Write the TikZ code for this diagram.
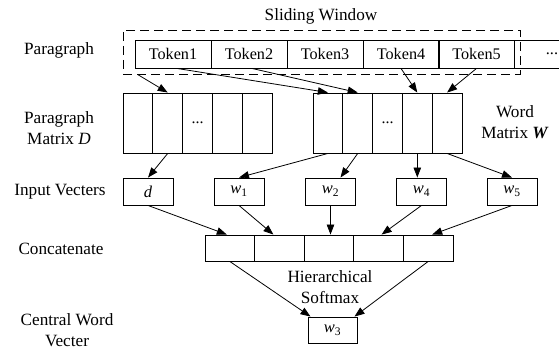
\documentclass[tikz,border=0pt]{standalone}
\usepackage{fontspec}
\setmainfont{Liberation Serif}
\usetikzlibrary{arrows.meta}
\begin{document}
\begin{tikzpicture}[x=1pt,y=-1pt,
  box/.style={draw, line width=0.9pt, inner sep=0pt, minimum height=28pt, minimum width=76pt, font=\fontsize{16.2}{19}\selectfont},
  col/.style={draw, line width=0.9pt, inner sep=0pt, minimum height=60pt, minimum width=29.8pt, font=\fontsize{16}{19}\selectfont},
  vec/.style={draw, line width=0.9pt, inner sep=0pt, minimum height=27pt, minimum width=50pt, font=\fontsize{16.5}{19}\selectfont},
  cat/.style={draw, line width=0.9pt, inner sep=0pt, minimum height=26pt, minimum width=49.6pt},
  lbl/.style={align=center, inner sep=0pt, font=\fontsize{17.2}{21}\selectfont},
  arr/.style={line width=0.8pt, -{Triangle[length=10pt,width=7.5pt]}}
]
\useasboundingbox (0,0) rectangle (559,350);
% labels
\node[lbl] (lsw) at (321,16) {Sliding Window};
\node[lbl] (lpar) at (59,50) {Paragraph};
\node[lbl] (lpm) at (59,128) {Paragraph\\Matrix \textit{D}};
\node[lbl] (lwm) at (515,122) {Word\\Matrix \textbf{\textit{W}}};
\node[lbl] (liv) at (60,192) {Input Vecters};
\node[lbl] (lcc) at (61,249) {Concatenate};
\node[lbl] (lcw) at (67,330) {Central Word\\Vecter};
\node[lbl] (lhs) at (330,287) {Hierarchical\\Softmax};
% tokens
\node[box] (t1) at (173,54) {Token1};
\node[box] (t2) at (249,54) {Token2};
\node[box] (t3) at (325,54) {Token3};
\node[box] (t4) at (401,54) {Token4};
\node[box] (t5) at (476.5,54) {Token5};
\node[box] (t6) at (552,54) {...};
\node[draw, dashed, dash pattern=on 9pt off 5pt, line width=0.9pt, minimum width=397pt, minimum height=44pt, inner sep=0pt] (win) at (321.5,52) {};
% paragraph matrix
\node[col] (p1) at (137.9,123) {};
\node[col] (p2) at (167.7,123) {};
\node[col] (p3) at (197.5,123) {...};
\node[col] (p4) at (227.3,123) {};
\node[col] (p5) at (257.1,123) {};
% word matrix
\node[col] (m1) at (327.9,123) {};
\node[col] (m2) at (357.7,123) {};
\node[col] (m3) at (387.5,123) {...};
\node[col] (m4) at (417.3,123) {};
\node[col] (m5) at (447.1,123) {};
% input vectors
\node[vec] (d) at (148,191.5) {\textit{d}};
\node[vec] (w1) at (239,191.5) {\textit{w}\textsubscript{1}};
\node[vec] (w2) at (330.5,191.5) {\textit{w}\textsubscript{2}};
\node[vec] (w4) at (421.5,191.5) {\textit{w}\textsubscript{4}};
\node[vec] (w5) at (512,191.5) {\textit{w}\textsubscript{5}};
% concatenate
\node[cat] (c1) at (229.8,248) {};
\node[cat] (c2) at (279.4,248) {};
\node[cat] (c3) at (329,248) {};
\node[cat] (c4) at (378.6,248) {};
\node[cat] (c5) at (428.2,248) {};
% central
\node[vec, minimum width=49pt, minimum height=26pt] (w3) at (332.5,330) {\textit{w}\textsubscript{3}};
% arrows
\draw[arr] ([xshift=15pt]win.south west) -- (p2.north);
\draw[arr] ([xshift=4pt]t1.south) -- (m1.north);
\draw[arr] ([xshift=3pt]t2.south) -- (m2.north);
\draw[arr] (t4.south) -- (m4.north);
\draw[arr] (t5.south) -- (m5.north);
\draw[arr] (p2.south) -- (d.north);
\draw[arr] (m1.south) -- (w1.north);
\draw[arr] (m2.south) -- ([xshift=10pt]w2.north);
\draw[arr] (m4.south) -- (m4.south |- w4.north);
\draw[arr] (m5.south) -- (w5.north);
\draw[arr] (d.south) -- ([xshift=-3pt]c1.north);
\draw[arr] (w1.south) -- ([xshift=-6pt]c2.north);
\draw[arr] (w2.south) -- (w2.south |- c3.north);
\draw[arr] (w4.south) -- ([xshift=3pt]c4.north);
\draw[arr] (w5.south) -- ([xshift=4pt]c5.north);
\draw[arr] (c1.south) -- ([xshift=-22pt]w3.north);
\draw[arr] (c5.south) -- ([xshift=22pt]w3.north);
\end{tikzpicture}
\end{document}
